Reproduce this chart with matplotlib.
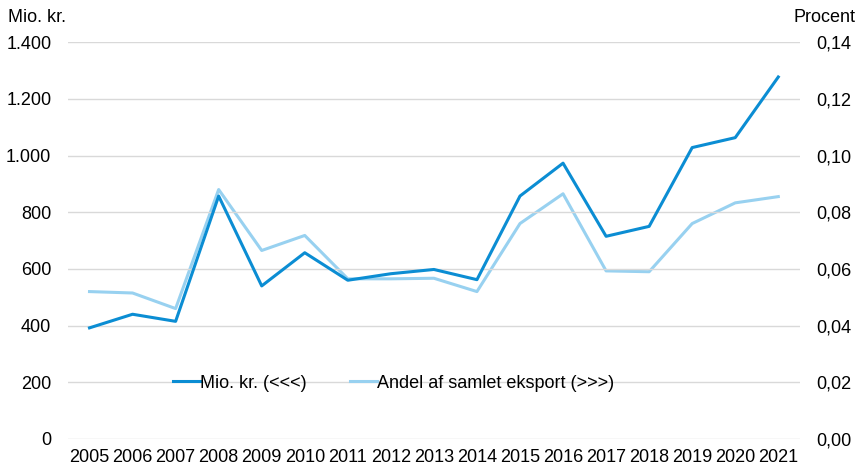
import matplotlib.pyplot as plt
from matplotlib.ticker import FuncFormatter

plt.rcParams['font.family'] = ['Liberation Sans', 'DejaVu Sans']

years = [str(y) for y in range(2005, 2022)]
mio_kr = [392, 440, 415, 857, 540, 657, 560, 583, 598, 562, 857, 973, 715, 750, 1028, 1063, 1277]
andel = [0.052, 0.0515, 0.046, 0.088, 0.0665, 0.0718, 0.0565, 0.0565, 0.0567, 0.052,
         0.076, 0.0865, 0.0593, 0.059, 0.076, 0.0833, 0.0855]

dark = '#0b8dd3'
light = '#98d1f0'

fig = plt.figure(figsize=(8.64, 4.68), dpi=100)
ax = fig.add_axes([0.0787, 0.062, 0.847, 0.848])
ax2 = ax.twinx()

x = range(len(years))
l1, = ax.plot(x, mio_kr, color=dark, lw=2.2, label='Mio. kr. (<<<)', zorder=3)
l2, = ax2.plot(x, andel, color=light, lw=2.2, label='Andel af samlet eksport (>>>)', zorder=2)
ax.set_zorder(ax2.get_zorder() + 1)
ax.patch.set_visible(False)

ax.set_xlim(-0.5, len(years) - 0.5)
ax.set_ylim(0, 1400)
ax2.set_ylim(0, 0.14)
ax.set_yticks(range(0, 1401, 200))
ax2.set_yticks([i * 0.02 for i in range(8)])
ax.yaxis.set_major_formatter(FuncFormatter(lambda v, p: f'{int(v):,}'.replace(',', '.')))
ax2.yaxis.set_major_formatter(FuncFormatter(lambda v, p: f'{v:.2f}'.replace('.', ',')))
ax.set_xticks(list(x))
ax.set_xticklabels(years)

ax.grid(axis='y', color='#d9d9d9', lw=1)
ax.set_axisbelow(True)
for a in (ax, ax2):
    for s in a.spines.values():
        s.set_visible(False)
    a.tick_params(length=0, labelsize=13, colors='black')
ax.tick_params(axis='y', pad=12)
ax2.tick_params(axis='y', pad=12)
ax.tick_params(axis='x', pad=7)

fig.text(0.009, 0.962, 'Mio. kr.', fontsize=13, ha='left', va='center')
fig.text(0.990, 0.962, 'Procent', fontsize=13, ha='right', va='center')

ax.legend(handles=[l1, l2], loc='center left', bbox_to_anchor=(0.143, 0.141), ncol=2,
          frameon=False, fontsize=13, handlelength=1.5, handletextpad=0.0,
          columnspacing=2.4, borderaxespad=0, borderpad=0)

fig.savefig('out.png', dpi=100)
